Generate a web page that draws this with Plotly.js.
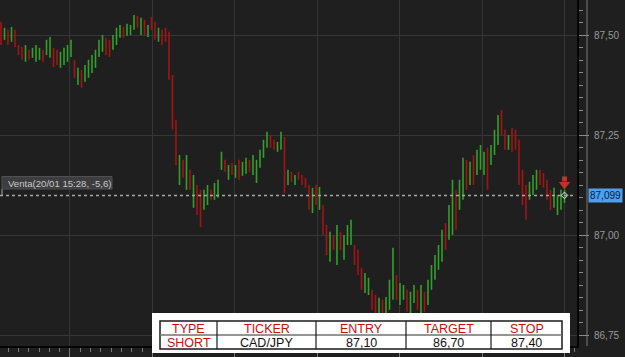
<!DOCTYPE html>
<html>
<head>
<meta charset="utf-8">
<script src="https://cdn.plot.ly/plotly-3.0.1.min.js"></script>
<style>
  html, body { margin: 0; padding: 0; background: #1f1f1f; }
  #chart { width: 625px; height: 357px; }
</style>
</head>
<body>
<div id="chart"></div>
<script>
// ---- data ----
const barHigh = [
  87.533,87.518,87.513,87.520,87.513,87.475,87.470,87.475,87.463,87.468,
  87.475,87.468,87.463,87.488,87.495,87.468,87.463,87.458,87.468,87.475,
  87.488,87.438,87.418,87.413,87.425,87.438,87.450,87.463,87.488,87.500,
  87.493,87.488,87.500,87.518,87.525,87.520,87.528,87.525,87.550,87.548,
  87.543,87.538,87.525,87.545,87.533,87.518,87.513,87.518,87.508,87.400,
  87.288,87.200,87.188,87.200,87.163,87.150,87.125,87.113,87.113,87.125,
  87.113,87.130,87.138,87.208,87.188,87.175,87.180,87.175,87.188,87.183,
  87.193,87.188,87.200,87.188,87.213,87.238,87.258,87.250,87.238,87.233,
  87.258,87.245,87.163,87.158,87.150,87.158,87.150,87.143,87.125,87.118,
  87.125,87.120,87.075,87.025,87.008,87.000,87.025,87.008,87.000,87.025,
  87.038,86.975,86.963,86.918,86.905,86.893,86.863,86.850,86.843,86.838,
  86.845,86.888,86.968,86.900,86.880,86.875,86.863,86.858,86.875,86.863,
  86.875,86.858,86.888,86.925,86.950,86.975,87.013,87.030,87.075,87.138,
  87.113,87.138,87.193,87.188,87.183,87.200,87.213,87.225,87.208,87.218,
  87.225,87.263,87.300,87.313,87.263,87.250,87.268,87.263,87.238,87.163,
  87.125,87.133,87.150,87.163,87.163,87.155,87.138,87.113,87.118,87.100,
  87.113,87.113
];
const barLow = [
  87.475,87.488,87.475,87.483,87.470,87.450,87.438,87.433,87.438,87.443,
  87.433,87.438,87.433,87.450,87.443,87.420,87.425,87.418,87.425,87.433,
  87.445,87.393,87.375,87.368,87.383,87.393,87.405,87.418,87.445,87.458,
  87.450,87.445,87.463,87.475,87.493,87.493,87.498,87.500,87.513,87.518,
  87.500,87.500,87.495,87.513,87.488,87.483,87.475,87.483,87.388,87.263,
  87.175,87.125,87.143,87.113,87.113,87.068,87.050,87.020,87.063,87.075,
  87.088,87.088,87.093,87.163,87.158,87.138,87.150,87.143,87.138,87.148,
  87.153,87.158,87.150,87.130,87.168,87.193,87.218,87.218,87.213,87.208,
  87.213,87.105,87.125,87.133,87.125,87.138,87.125,87.118,87.063,87.055,
  87.075,87.063,87.000,86.950,86.933,86.963,86.925,86.963,86.938,86.975,
  86.975,86.925,86.900,86.863,86.855,86.850,86.813,86.793,86.793,86.788,
  86.793,86.813,86.838,86.838,86.825,86.838,86.808,86.800,86.830,86.813,
  86.793,86.808,86.825,86.863,86.888,86.913,86.933,86.963,86.988,87.000,
  87.013,87.063,87.088,87.113,87.125,87.125,87.150,87.163,87.150,87.113,
  87.175,87.200,87.225,87.250,87.213,87.213,87.208,87.213,87.125,87.075,
  87.038,87.088,87.100,87.113,87.125,87.118,87.088,87.063,87.068,87.050,
  87.063,87.080
];
// u = rising bar (green), d = falling bar (red)
const barDirection = (
  "dududddudu" + "uuduudduuu" + "ududuuuuuu" + "dduuuduuud" + "ududdudddd" +
  "dudududduu" + "duuudududu" + "uduuuuuddu" + "udududdddu" + "duddududuu" +
  "uddduuddud" + "uuuduuduud" + "uduuuuuduu" + "duududuuud" + "uuuddudddd" +
  "duuudddduu" + "uu"
).split("");

const yTickLabelsFormat = ".2f";
const tradeLevel = 87.099;
const tradeLevelLabel = "87,099";
const tradeNote = "Venta(20/01 15:28, -5,6)";

const tableHeaders = ["TYPE", "TICKER", "ENTRY", "TARGET", "STOP"];
const tableValues  = ["SHORT", "CAD/JPY", "87,10", "86,70", "87,40"];

// ---- build traces ----
const xs = barHigh.map((_, i) => i);
const opens = barHigh.map((h, i) => barDirection[i] === "u" ? barLow[i] : h);
const closes = barHigh.map((h, i) => barDirection[i] === "u" ? h : barLow[i]);
const last = barHigh.length - 1;

const GREEN = "#33a02a", RED = "#a31414";

const traces = [
  {
    type: "ohlc", x: xs, open: opens, high: barHigh, low: barLow, close: closes,
    tickwidth: 0,
    increasing: { line: { color: GREEN, width: 1.6 } },
    decreasing: { line: { color: RED, width: 1.6 } },
    hoverinfo: "skip", showlegend: false
  },
  // marker on last bar at trade level
  {
    type: "scatter", mode: "markers", x: [last], y: [tradeLevel],
    marker: { symbol: "diamond-open", size: 5, color: "#e8e8e8", line: { width: 1 } },
    hoverinfo: "skip", showlegend: false
  },
  // red sell arrow above last bar: stem + head
  {
    type: "scatter", mode: "markers", x: [last, last],
    y: [barHigh[last] + 0.027, barHigh[last] + 0.013],
    marker: { symbol: ["square", "triangle-down"], size: [5, 10], color: "#ff3b2a",
              line: { width: 0 } },
    hoverinfo: "skip", showlegend: false
  }
];

// ---- geometry helpers (pixel -> paper) ----
const PW = 577, PH = 346;
const px = v => v / PW;
const py = v => 1 - v / PH;

const shapes = [
  // dotted trade line
  { type: "line", xref: "paper", yref: "y", x0: 0, x1: px(574), y0: tradeLevel, y1: tradeLevel,
    line: { color: "#a8a8a8", width: 1.5, dash: "3px,3px" } },
  // small tick at start of trade line
  { type: "line", xref: "paper", yref: "paper", x0: px(2), x1: px(2), y0: py(189), y1: py(196),
    line: { color: "#a8a8a8", width: 1 } },
  // note box
  { type: "rect", xref: "paper", yref: "paper", x0: px(2), x1: px(112), y0: py(189), y1: py(176.5),
    fillcolor: "#3d3d3f", line: { color: "#505052", width: 1 } },
  // secondary axis line at right
  { type: "line", xref: "paper", yref: "paper", x0: px(587), x1: px(587), y0: 0, y1: 1,
    line: { color: "#7a7a7a", width: 1 } },
  // white panel
  { type: "rect", xref: "paper", yref: "paper", x0: px(152), x1: px(570), y0: py(313), y1: py(353),
    fillcolor: "#ffffff", line: { width: 0 } },
  // table outer border
  { type: "rect", xref: "paper", yref: "paper", x0: px(160), x1: px(562), y0: py(321), y1: py(349),
    fillcolor: "rgba(0,0,0,0)", line: { color: "#1a1a1a", width: 1.5 } },
  // row separator
  { type: "line", xref: "paper", yref: "paper", x0: px(160), x1: px(562), y0: py(335), y1: py(335),
    line: { color: "#707070", width: 1.5 } }
];
const colEdges = [160, 217, 316, 406, 491, 562];
for (let c = 1; c < colEdges.length - 1; c++) {
  shapes.push({ type: "line", xref: "paper", yref: "paper",
    x0: px(colEdges[c]), x1: px(colEdges[c]), y0: py(321), y1: py(349),
    line: { color: "#1a1a1a", width: 1.2 } });
}

const annotations = [
  { xref: "paper", yref: "paper", x: px(6), y: py(183), xanchor: "left", yanchor: "middle",
    text: tradeNote, showarrow: false,
    font: { family: "Liberation Sans", size: 9.6, color: "#c9c9cc" } },
  { xref: "paper", yref: "y", x: px(588), y: tradeLevel, xanchor: "left", yanchor: "middle",
    text: tradeLevelLabel, showarrow: false, bgcolor: "#4aa0f2", borderpad: 1,
    font: { family: "Liberation Sans", size: 10, color: "#0c1a33" } }
];
for (let c = 0; c < tableHeaders.length; c++) {
  const cx = (colEdges[c] + colEdges[c + 1]) / 2;
  annotations.push({ xref: "paper", yref: "paper", x: px(cx), y: py(328.5),
    xanchor: "center", yanchor: "middle", text: tableHeaders[c], showarrow: false,
    font: { family: "Liberation Sans", size: 12.5, color: "#c40f0f" } });
  annotations.push({ xref: "paper", yref: "paper", x: px(cx), y: py(342.5),
    xanchor: "center", yanchor: "middle", text: tableValues[c], showarrow: false,
    font: { family: "Liberation Sans", size: 12.5, color: c === 0 ? "#c40f0f" : "#111111" } });
}

const majorX = 23.55;
const layout = {
  width: 625, height: 357,
  margin: { l: 0, r: 48, t: 0, b: 11, pad: 0 },
  paper_bgcolor: "#1f1f1f", plot_bgcolor: "#1f1f1f",
  separators: ",.",
  font: { family: "Liberation Sans", color: "#9a9a9a" },
  showlegend: false,
  xaxis: {
    range: [-0.286, 164.57], showticklabels: false,
    tick0: 19.7, dtick: majorX, showgrid: true, gridcolor: "#363636", gridwidth: 1,
    ticks: "outside", ticklen: 10, tickcolor: "#7a7a7a", tickwidth: 1,
    minor: { tick0: 19.7, dtick: majorX / 8, ticks: "outside", ticklen: 4, tickcolor: "#7a7a7a", showgrid: false },
    showline: true, linecolor: "#050505", linewidth: 2, zeroline: false,
    rangeslider: { visible: false }, fixedrange: true
  },
  yaxis: {
    side: "right", range: [86.7225, 87.5875],
    tick0: 86.75, dtick: 0.25, tickformat: yTickLabelsFormat,
    showgrid: true, gridcolor: "#363636", gridwidth: 1,
    ticks: "outside", ticklen: 10, tickcolor: "#8a8a8a", tickwidth: 1,
    minor: { dtick: 0.03125, ticks: "outside", ticklen: 4, tickcolor: "#8a8a8a", showgrid: false },
    showline: true, linecolor: "#050505", linewidth: 2, zeroline: false,
    tickfont: { family: "Liberation Sans", size: 10, color: "#9a9a9a" },
    ticklabelstandoff: 3, fixedrange: true
  },
  shapes: shapes,
  annotations: annotations
};

Plotly.newPlot("chart", traces, layout, { staticPlot: true, displayModeBar: false });
</script>
</body>
</html>
